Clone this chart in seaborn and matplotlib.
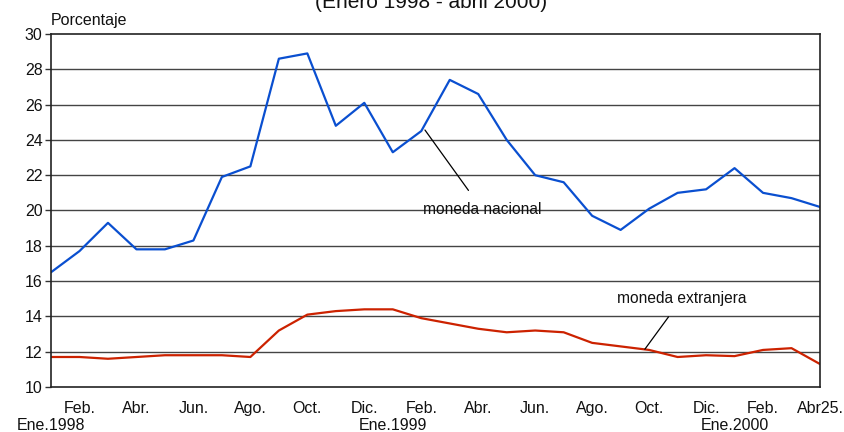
import matplotlib
matplotlib.use("Agg")
import matplotlib.pyplot as plt
import seaborn as sns
import pandas as pd
import numpy as np

sns.set_theme(style="white")
plt.rcParams['font.family'] = ['Liberation Sans', 'DejaVu Sans']

months = list(range(28))
nacional = [16.5, 17.7, 19.3, 17.8, 17.8, 18.3, 21.9, 22.5, 28.6, 28.9,
            24.8, 26.1, 23.3, 24.5, 27.4, 26.6, 24.0, 22.0, 21.6, 19.7,
            18.9, 20.1, 21.0, 21.2, 22.4, 21.0, 20.7, 20.2]
extranjera = [11.7, 11.7, 11.6, 11.7, 11.8, 11.8, 11.8, 11.7, 13.2, 14.1,
              14.3, 14.4, 14.4, 13.9, 13.6, 13.3, 13.1, 13.2, 13.1, 12.5,
              12.3, 12.1, 11.7, 11.8, 11.75, 12.1, 12.2, 11.3]
top_labels = ["Feb.", "Abr.", "Jun.", "Ago.", "Oct.", "Dic.", "Feb.", "Abr.",
              "Jun.", "Ago.", "Oct.", "Dic.", "Feb.", "Abr25."]
year_labels = ["Ene.1998", "Ene.1999", "Ene.2000"]
year_pos = [0, 12, 24]
yticks = [10, 12, 14, 16, 18, 20, 22, 24, 26, 28, 30]

df = pd.DataFrame({"mes": months, "moneda nacional": nacional, "moneda extranjera": extranjera})

fig = plt.figure(figsize=(8.44, 4.32), dpi=100)
ax = fig.add_axes([51/844, 1 - 387/432, (820-51)/844, (387-34)/432])

sns.lineplot(data=df, x="mes", y="moneda nacional", ax=ax, color="#0a4fd0", lw=1.6)
sns.lineplot(data=df, x="mes", y="moneda extranjera", ax=ax, color="#cc2200", lw=1.6)

ax.set_xlim(0, 27)
ax.set_ylim(10, 30)
ax.set_yticks(yticks)
ax.set_yticklabels([str(v) for v in yticks], fontsize=11.5, color="#111111")
ax.tick_params(axis='y', length=4, width=1, color="#333333", pad=2, left=True)
ax.set_xticks([])
ax.set_xlabel("")
ax.set_ylabel("")
for y in yticks[1:-1]:
    ax.axhline(y, color="#444444", lw=1.0, zorder=0)
for s in ax.spines.values():
    s.set_color("#222222")
    s.set_linewidth(1.2)

# x labels (two rows)
trans = ax.get_xaxis_transform()
for i, lab in enumerate(top_labels):
    ax.text(1 + 2*i, -0.062, lab, transform=trans, ha='center', va='center', fontsize=11.5, color="#111111")
for p, lab in zip(year_pos, year_labels):
    ax.text(p, -0.108, lab, transform=trans, ha='center', va='center', fontsize=11.5, color="#111111", clip_on=False)

fig.text(51/844, 1 - 20/432, "Porcentaje", ha='left', va='center', fontsize=11.5, color="#111111")
fig.text(431/844, 1 - 12/432, "(Enero 1998 - abril 2000)", ha='center', va='bottom', fontsize=15, color="#111111")

ax.annotate("moneda nacional", xy=(13.13, 24.56), xytext=(15.13, 20.08),
            ha='center', va='center', fontsize=11.2, color="#111111",
            arrowprops=dict(arrowstyle='-', color='black', lw=0.9, shrinkA=7, shrinkB=0))
ax.annotate("moneda extranjera", xy=(20.85, 12.14), xytext=(22.16, 15.03),
            ha='center', va='center', fontsize=11.2, color="#111111",
            arrowprops=dict(arrowstyle='-', color='black', lw=0.9, shrinkA=7, shrinkB=0))

fig.savefig("out.png", dpi=100)
